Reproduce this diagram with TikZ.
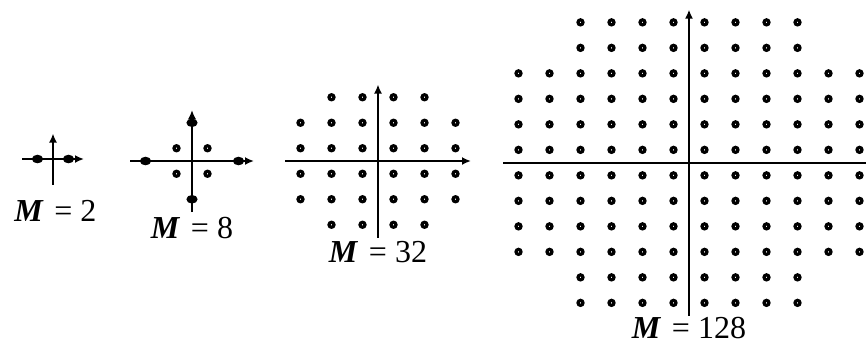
\documentclass[tikz,border=0pt]{standalone}
\usepackage{fontspec}
\setmainfont{Liberation Serif}
\usetikzlibrary{arrows.meta,positioning,shapes.geometric}
\tikzset{
  % axis, arrow at the positive end
  axisline/.style={line width=1.1pt, -{Latex[length=4.5pt,width=4pt]}},
  % axis cut by the page edge
  axisplain/.style={line width=1.1pt},
  % open signal point
  opt/.style={circle, draw, line width=1.6pt, inner sep=0pt, minimum size=2.5pt},
  % filled signal point
  fpt/.style={ellipse, fill, inner sep=0pt, minimum width=5.6pt, minimum height=4.3pt},
  % constellation size label
  mlabel/.style={font=\fontsize{16}{18}\selectfont, inner sep=0pt},
}

\begin{document}
\begin{tikzpicture}[x=7.75pt,y=6.375pt]
  \useasboundingbox (0pt,0pt) rectangle (433pt,172.5pt);

  % M = 2
  \begin{scope}[shift={(26.5pt,93pt)}]
    \coordinate (w2) at (-2,0);
    \coordinate (e2) at (2,0);
    \coordinate (s2) at (0,-2);
    \coordinate (n2) at (0,2);
    \draw[axisline] (w2) -- (e2);
    \draw[axisline] (s2) -- (n2);
    \node[fpt] (a2-l) at (-1,0) {};
    \node[fpt] (a2-r) at (1,0) {};
    \node[mlabel] (l2) at (0.15,-4.1) {\textbf{\textit{M}}\,\,= 2};
  \end{scope}

  % M = 8
  \begin{scope}[shift={(96pt,92pt)}]
    \coordinate (w8) at (-4,0);
    \coordinate (e8) at (4,0);
    \coordinate (s8) at (0,-4);
    \coordinate (n8) at (0,4);
    \draw[axisline] (w8) -- (e8);
    \draw[axisline] (s8) -- (n8);
    \node[fpt] (a8-w) at (-3,0) {};
    \node[fpt] (a8-e) at (3,0) {};
    \node[fpt] (a8-s) at (0,-3) {};
    \node[fpt] (a8-n) at (0,3) {};
    \foreach \i in {-1,1}
      \foreach \j in {-1,1}
        \node[opt] (a8-\i-\j) at (\i,\j) {};
    \node[mlabel] (l8) at (0,-5.25) {\textbf{\textit{M}}\,\,= 8};
  \end{scope}

  % M = 32
  \begin{scope}[shift={(189pt,92pt)}]
    \coordinate (w32) at (-6,0);
    \coordinate (e32) at (6,0);
    \coordinate (s32) at (0,-6);
    \coordinate (n32) at (0,6);
    \draw[axisline] (w32) -- (e32);
    \draw[axisline] (s32) -- (n32);
    \foreach \i in {-5,-3,...,5}
      \foreach \j in {-5,-3,...,5}{
        \pgfmathparse{abs(\i)>3 && abs(\j)>3}
        \ifnum\pgfmathresult=0
          \node[opt] (a32-\i-\j) at (\i,\j) {};
        \fi
      }
    \node[mlabel] (l32) at (0,-7.15) {\textbf{\textit{M}}\,\,= 32};
  \end{scope}

  % M = 128
  \begin{scope}[shift={(344.5pt,91.2pt)}]
    \coordinate (w128) at (-12,0);
    \coordinate (e128) at (11.42,0);
    \coordinate (s128) at (0,-12);
    \coordinate (n128) at (0,12);
    \draw[axisplain] (w128) -- (e128);
    \draw[axisline] (s128) -- (n128);
    \foreach \i in {-11,-9,...,11}
      \foreach \j in {-11,-9,...,11}{
        \pgfmathparse{abs(\i)>7 && abs(\j)>7}
        \ifnum\pgfmathresult=0
          \node[opt] (a128-\i-\j) at (\i,\j) {};
        \fi
      }
    \node[mlabel] (l128) at (0,-12.95) {\textbf{\textit{M}}\,\,= 128};
  \end{scope}
\end{tikzpicture}
\end{document}
